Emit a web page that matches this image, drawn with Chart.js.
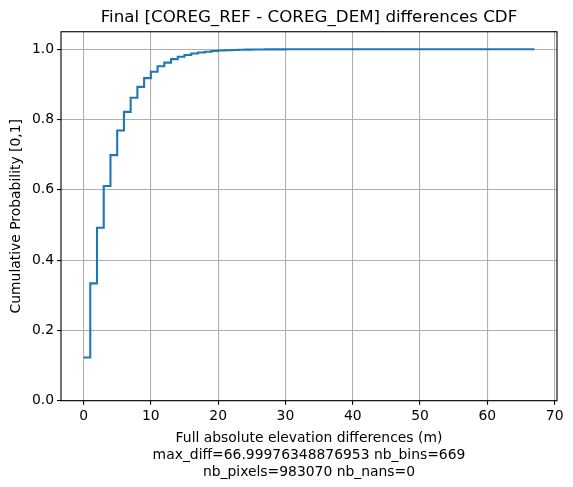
<!DOCTYPE html>
<html>
<head>
<meta charset="utf-8">
<script src="https://cdn.jsdelivr.net/npm/chart.js@4.4.0/dist/chart.umd.min.js"></script>
<style>
  html, body { margin: 0; padding: 0; background: #fff; }
  #wrap { width: 573px; height: 487px; }
</style>
</head>
<body>
<div id="wrap"><canvas id="cdf" width="573" height="487"></canvas></div>
<script>
// elevation difference (m), one point per metre
const diffs = [
  0, 1, 2, 3, 4, 5, 6, 7, 8, 9,
  10, 11, 12, 13, 14, 15, 16, 17, 18, 19,
  20, 21, 22, 23, 24, 25, 26, 27, 28, 29,
  30, 31, 32, 33, 34, 35, 36, 37, 38, 39,
  40, 41, 42, 43, 44, 45, 46, 47, 48, 49,
  50, 51, 52, 53, 54, 55, 56, 57, 58, 59,
  60, 61, 62, 63, 64, 65, 66, 67
];
// cumulative probability
const cdf = [
  0.123, 0.334, 0.492, 0.611, 0.699, 0.769, 0.822, 0.862, 0.893, 0.918,
  0.936, 0.952, 0.962, 0.972, 0.979, 0.984, 0.988, 0.991, 0.993, 0.995,
  0.9965, 0.9975, 0.998, 0.9986, 0.999, 0.9993, 0.9995, 0.9997, 0.9998, 0.9999,
  1.0, 1.0, 1.0, 1.0, 1.0, 1.0, 1.0, 1.0, 1.0, 1.0,
  1.0, 1.0, 1.0, 1.0, 1.0, 1.0, 1.0, 1.0, 1.0, 1.0,
  1.0, 1.0, 1.0, 1.0, 1.0, 1.0, 1.0, 1.0, 1.0, 1.0,
  1.0, 1.0, 1.0, 1.0, 1.0, 1.0, 1.0, 1.0
];
const xTicks = [0, 10, 20, 30, 40, 50, 60, 70];
const yTicks = [0.0, 0.2, 0.4, 0.6, 0.8, 1.0];

const chartTitle = 'Final [COREG_REF - COREG_DEM] differences CDF';
const xTitle = [
  'Full absolute elevation differences (m)',
  'max_diff=66.99976348876953 nb_bins=669',
  'nb_pixels=983070 nb_nans=0'
];
const yTitle = 'Cumulative Probability [0,1]';

const FONT = 'DejaVu Sans';

// black box around the plot area, like matplotlib spines
const frame = {
  id: 'frame',
  afterDraw(chart) {
    const { ctx, chartArea: a } = chart;
    ctx.save();
    ctx.strokeStyle = '#000';
    ctx.lineWidth = 1.1;
    ctx.strokeRect(a.left, a.top, a.right - a.left, a.bottom - a.top);
    ctx.restore();
  }
};

new Chart(document.getElementById('cdf'), {
  type: 'line',
  data: {
    datasets: [{
      data: diffs.map((x, i) => ({ x, y: cdf[i] })),
      borderColor: '#1f77b4',
      borderWidth: 2.1,
      pointRadius: 0,
      stepped: 'before',
      fill: false
    }]
  },
  options: {
    responsive: false,
    animation: false,
    devicePixelRatio: 1,
    layout: { padding: { left: 0, right: 16, top: 0, bottom: 0 } },
    plugins: {
      legend: { display: false },
      tooltip: { enabled: false },
      title: {
        display: true,
        text: chartTitle,
        fullSize: false,
        color: '#000',
        font: { family: FONT, size: 16.7, weight: 'normal', lineHeight: 1.2 },
        padding: { top: 8, bottom: 3.7 }
      }
    },
    scales: {
      x: {
        type: 'linear',
        min: -3.35,
        max: 70.35,
        afterBuildTicks: s => { s.ticks = xTicks.map(v => ({ value: v })); },
        afterFit: s => { s.height = 86.3; },
        ticks: {
          color: '#000',
          padding: 3,
          maxRotation: 0,
          font: { family: FONT, size: 13.9 },
          callback: v => v
        },
        grid: { color: '#b0b0b0', lineWidth: 1.1, tickLength: 4, tickColor: '#000' },
        border: { display: false },
        title: {
          display: true,
          text: xTitle,
          color: '#000',
          font: { family: FONT, size: 13.9, lineHeight: 1.2 },
          padding: { top: 2, bottom: 6.7 }
        }
      },
      y: {
        min: 0,
        max: 1.05,
        afterBuildTicks: s => { s.ticks = yTicks.map(v => ({ value: v })); },
        afterFit: s => { s.width = 61; },
        ticks: {
          color: '#000',
          padding: 3,
          font: { family: FONT, size: 13.9 },
          callback: v => v.toFixed(1)
        },
        grid: { color: '#b0b0b0', lineWidth: 1.1, tickLength: 4, tickColor: '#000' },
        border: { display: false },
        title: {
          display: true,
          text: yTitle,
          color: '#000',
          font: { family: FONT, size: 13.9, lineHeight: 1.2 },
          padding: { top: 7.6, bottom: 0 }
        }
      }
    }
  },
  plugins: [frame]
});
</script>
</body>
</html>
